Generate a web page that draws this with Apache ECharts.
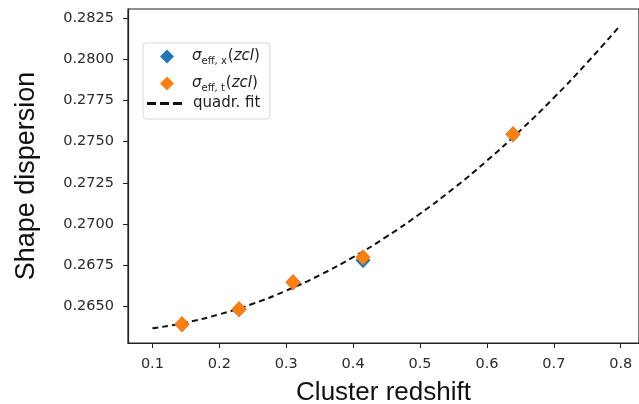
<!DOCTYPE html>
<html>
<head>
<meta charset="utf-8">
<script src="https://cdn.jsdelivr.net/npm/echarts@6/dist/echarts.min.js"></script>
<style>
html,body{margin:0;padding:0;background:#fff;}
#c{width:639px;height:404px;}
</style>
</head>
<body>
<div id="c"></div>
<script>
// Data
const redshift = [0.1442, 0.2294, 0.3102, 0.4148, 0.6390];
const sigmaX = [0.26391, 0.26482, 0.26646, 0.26780, 0.27545];
const sigmaT = [0.26391, 0.26482, 0.26646, 0.26798, 0.27545];
const fitX = [0.10, 0.15, 0.20, 0.25, 0.30, 0.35, 0.40, 0.45, 0.50, 0.55, 0.60, 0.65, 0.70, 0.75, 0.80];
const fitY = [0.26366, 0.26401, 0.26451, 0.26515, 0.26595, 0.26689, 0.26798, 0.26923, 0.27062, 0.27215, 0.27384, 0.27568, 0.27766, 0.27980, 0.28208];
const xTicks = [0.1, 0.2, 0.3, 0.4, 0.5, 0.6, 0.7, 0.8];
const yTicks = [0.2650, 0.2675, 0.2700, 0.2725, 0.2750, 0.2775, 0.2800, 0.2825];

const pairs = (xs, ys) => xs.map((x, i) => [x, ys[i]]);

const chart = echarts.init(document.getElementById('c'), null, {renderer: 'canvas'});
const tickFont = {fontFamily: 'DejaVu Sans', fontSize: 14.5, color: '#2a2a2a'};
const sigmaRich = {
  s: {fontFamily: 'DejaVu Sans', fontStyle: 'italic', fontSize: 15, color: '#222'},
  sub: {fontFamily: 'DejaVu Sans', fontSize: 10, color: '#222', verticalAlign: 'bottom', padding: [9, 1, 0, 0]},
  p: {fontFamily: 'DejaVu Sans', fontSize: 15, color: '#222'},
  i: {fontFamily: 'DejaVu Sans', fontStyle: 'italic', fontSize: 15, color: '#222'},
  t: {fontFamily: 'DejaVu Sans', fontSize: 15, color: '#222'}
};

chart.setOption({
  animation: false,
  grid: {left: 128, right: 0, top: 9, bottom: 61, show: true, borderColor: '#222', borderWidth: 1.2,
         containLabel: false, outerBoundsMode: 'none'},
  legend: [{
    left: 143, top: 43,
    orient: 'vertical',
    itemGap: 10,
    itemWidth: 14, itemHeight: 14,
    padding: [6, 10, 26, 17],
    borderColor: '#d8d8d8', borderWidth: 1, borderRadius: 3,
    backgroundColor: '#fff',
    data: [
      {name: 'sx', icon: 'diamond'},
      {name: 'st', icon: 'diamond'}
    ],
    formatter: function (n) {
      if (n === 'sx') return '{s|σ}{sub|eff, x}{p|(}{i|zcl}{p|)}';
      return '{s|σ}{sub|eff, t}{p|(}{i|zcl}{p|)}';
    },
    itemStyle: {opacity: 1},
    textStyle: {rich: sigmaRich, padding: [0, 0, 0, 13]}
  }, {
    left: 147, top: 96,
    orient: 'vertical',
    itemWidth: 35, itemHeight: 3,
    padding: 0,
    data: [{name: 'fit', icon: 'path://M0,0h9v3h-9zM13,0h9v3h-9zM26,0h9v3h-9z'}],
    formatter: () => '{t|quadr. fit}',
    lineStyle: {opacity: 0},
    itemStyle: {color: '#111'},
    textStyle: {rich: sigmaRich, padding: [0, 0, 0, 6]}
  }],
  xAxis: {
    type: 'value',
    min: 0.0635, max: 0.8273,
    interval: 0.1,
    axisLine: {show: true, onZero: false, lineStyle: {color: '#222', width: 1.2}},
    axisTick: {show: true, length: 5, lineStyle: {color: '#222'}, customValues: xTicks},
    axisLabel: {show: true, margin: 14, ...tickFont, customValues: xTicks, formatter: v => v.toFixed(1)},
    splitLine: {show: false},
    name: 'Cluster redshift',
    nameLocation: 'middle',
    nameGap: 37,
    nameTextStyle: {fontFamily: 'Liberation Sans', fontSize: 26, color: '#111'}
  },
  yAxis: {
    type: 'value',
    min: 0.26277, max: 0.28305,
    axisLine: {show: true, onZero: false, lineStyle: {color: '#222', width: 1.2}},
    axisTick: {show: true, length: 5, lineStyle: {color: '#222'}, customValues: yTicks},
    axisLabel: {show: true, margin: 14, ...tickFont, customValues: yTicks, formatter: v => v.toFixed(4)},
    splitLine: {show: false},
    name: 'Shape dispersion',
    nameLocation: 'middle',
    nameGap: 88,
    nameRotate: 90,
    nameTextStyle: {fontFamily: 'Liberation Sans', fontSize: 27, color: '#111'}
  },
  series: [
    {
      name: 'fit', type: 'line', data: pairs(fitX, fitY), smooth: true,
      showSymbol: false, symbol: 'none', z: 3,
      lineStyle: {color: '#111', width: 2, type: [6, 4]},
      itemStyle: {color: '#111'}
    },
    {
      name: 'sx', type: 'scatter', data: pairs(redshift, sigmaX),
      symbol: 'diamond', symbolSize: [15, 16], z: 4,
      itemStyle: {color: '#1f77b4', opacity: 1}
    },
    {
      name: 'st', type: 'scatter', data: pairs(redshift, sigmaT),
      symbol: 'diamond', symbolSize: [15, 16], z: 5,
      itemStyle: {color: '#ff7f0e', opacity: 1}
    }
  ]
});
</script>
</body>
</html>
